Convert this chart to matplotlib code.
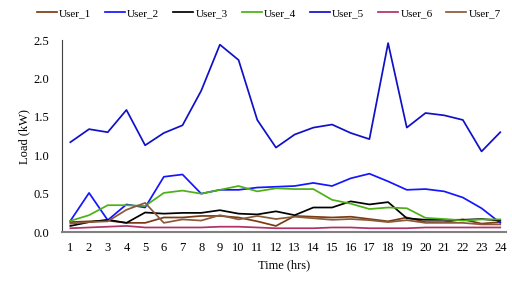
import matplotlib
matplotlib.use("Agg")
import matplotlib.pyplot as plt

hours = list(range(1, 25))

user_1 = [0.13, 0.14, 0.15, 0.12, 0.12, 0.19, 0.19, 0.21, 0.21, 0.19, 0.14, 0.08,
          0.21, 0.20, 0.19, 0.20, 0.17, 0.14, 0.19, 0.13, 0.13, 0.165, 0.11, 0.13]
user_2 = [0.146, 0.51, 0.155, 0.36, 0.32, 0.72, 0.75, 0.50, 0.55, 0.55, 0.58, 0.59,
          0.60, 0.64, 0.60, 0.70, 0.76, 0.66, 0.55, 0.56, 0.53, 0.45, 0.31, 0.12]
user_3 = [0.08, 0.13, 0.16, 0.12, 0.255, 0.24, 0.25, 0.25, 0.285, 0.24, 0.23, 0.27,
          0.22, 0.32, 0.32, 0.40, 0.36, 0.39, 0.18, 0.16, 0.16, 0.16, 0.17, 0.15]
user_4 = [0.146, 0.22, 0.35, 0.35, 0.34, 0.51, 0.54, 0.50, 0.55, 0.60, 0.53, 0.57,
          0.56, 0.56, 0.42, 0.37, 0.30, 0.32, 0.31, 0.185, 0.17, 0.15, 0.165, 0.165]
user_5 = [1.17, 1.34, 1.30, 1.59, 1.13, 1.29, 1.39, 1.84, 2.44, 2.24, 1.46, 1.10,
          1.27, 1.36, 1.40, 1.29, 1.21, 2.46, 1.36, 1.55, 1.52, 1.46, 1.05, 1.30]
user_6 = [0.05, 0.06, 0.07, 0.08, 0.06, 0.06, 0.06, 0.06, 0.07, 0.07, 0.06, 0.05,
          0.05, 0.05, 0.06, 0.06, 0.05, 0.05, 0.05, 0.06, 0.06, 0.06, 0.06, 0.06]
user_7 = [0.11, 0.13, 0.14, 0.29, 0.38, 0.12, 0.165, 0.15, 0.22, 0.165, 0.21, 0.17,
          0.20, 0.18, 0.16, 0.17, 0.155, 0.13, 0.155, 0.12, 0.12, 0.12, 0.10, 0.10]

series = [
    ("User_1", user_1, "#7B3A14"),
    ("User_2", user_2, "#1515FF"),
    ("User_3", user_3, "#000000"),
    ("User_4", user_4, "#4DB015"),
    ("User_5", user_5, "#1010C8"),
    ("User_6", user_6, "#B0306A"),
    ("User_7", user_7, "#8B5A3A"),
]

plt.rcParams['font.family'] = ['Liberation Serif', 'DejaVu Serif']

fig = plt.figure(figsize=(5.12, 2.82), dpi=100)
ax = fig.add_axes([0.121, 0.177, 0.867, 0.681])

for name, vals, col in series:
    ax.plot(hours, vals, color=col, lw=1.25, label=name)

ax.set_xlim(0.55, 24.3)
ax.set_ylim(0, 2.5)
ax.set_xticks(hours)
ax.set_yticks([0, 0.5, 1.0, 1.5, 2.0, 2.5])
ax.set_yticklabels(["0.0", "0.5", "1.0", "1.5", "2.0", "2.5"])
ax.tick_params(axis='both', length=0, labelsize=9)
ax.tick_params(axis='x', pad=7)
ax.tick_params(axis='y', pad=9)
for s in ["top", "right"]:
    ax.spines[s].set_visible(False)
ax.spines["left"].set_color("#404040")
ax.spines["left"].set_linewidth(0.8)
ax.spines["bottom"].set_color("#808080")
ax.spines["bottom"].set_linewidth(1.5)
ax.set_xlabel("Time (hrs)", fontsize=9)
ax.set_ylabel("Load (kW)", fontsize=9)
ax.xaxis.set_label_coords(0.5, -0.14)
ax.yaxis.set_label_coords(-0.072, 0.5)

fig.legend(loc="upper center", bbox_to_anchor=(0.525, 1.005), ncol=7, frameon=False,
           fontsize=8, handlelength=1.8, handletextpad=0.2, columnspacing=1.25)

fig.savefig("out.png", dpi=100)
